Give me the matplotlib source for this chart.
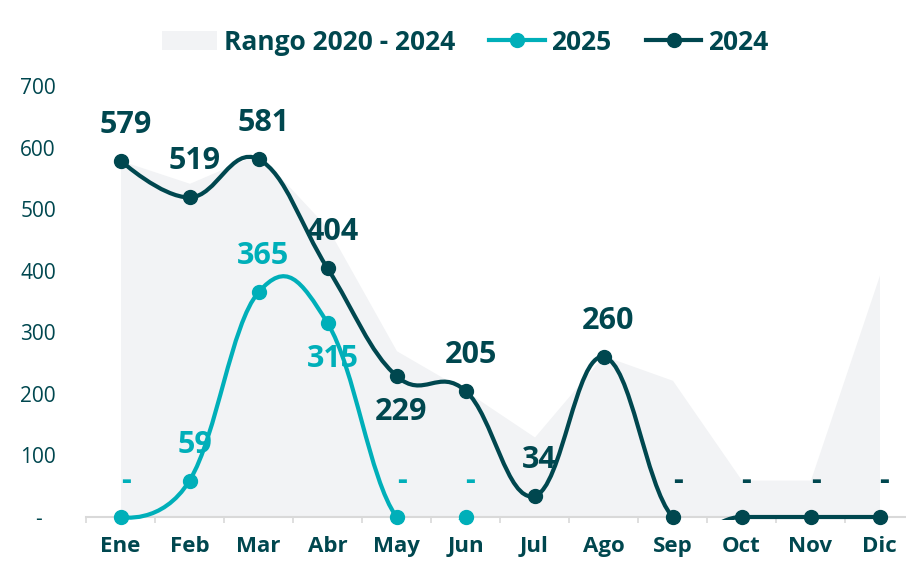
import numpy as np
import matplotlib
matplotlib.use("Agg")
import matplotlib.pyplot as plt
from matplotlib.path import Path
from matplotlib.patches import PathPatch, Patch
from matplotlib.lines import Line2D
from matplotlib.transforms import Bbox, TransformedBbox

plt.rcParams['font.family'] = ['Open Sans', 'DejaVu Sans']

# ----------------------------
# DATOS
# ----------------------------
meses = ["Ene", "Feb", "Mar", "Abr", "May", "Jun", "Jul", "Ago", "Sep", "Oct", "Nov", "Dic"]
serie_2024 = [579, 519, 581, 404, 229, 205, 34, 260, 0, 0, 0, 0]
serie_2025 = [0, 59, 365, 315, 0, 0]
rango_max = [579, 542, 590, 470, 270, 205, 130, 262, 222, 60, 60, 393]
rango_min = [0, 0, 0, 0, 0, 0, 0, 0, 0, 0, 0, 0]
yticks = [0, 100, 200, 300, 400, 500, 600, 700]

OSCURO = "#00474f"
TURQUESA = "#00afb9"
GRIS = "#f2f3f5"
EJE = "#d9d9d9"


def spline_path(xs, ys, smoothing=1.5):
    # curva tipo "spline" (puntos de control como en Highcharts)
    n = len(xs)
    denom = smoothing + 1
    lc = [(xs[i], ys[i]) for i in range(n)]
    rc = [(xs[i], ys[i]) for i in range(n)]
    for i in range(1, n - 1):
        px, py = xs[i], ys[i]
        lx = (smoothing * px + xs[i - 1]) / denom
        ly = (smoothing * py + ys[i - 1]) / denom
        rx = (smoothing * px + xs[i + 1]) / denom
        ry = (smoothing * py + ys[i + 1]) / denom
        if rx != lx:
            corr = ((ry - ly) * (rx - px)) / (rx - lx) + py - ry
            ly += corr
            ry += corr
        lc[i] = (lx, ly)
        rc[i] = (rx, ry)
    verts = [(xs[0], ys[0])]
    codes = [Path.MOVETO]
    for i in range(1, n):
        verts += [rc[i - 1], lc[i], (xs[i], ys[i])]
        codes += [Path.CURVE4] * 3
    return Path(verts, codes)


fig = plt.figure(figsize=(9.06, 5.63), dpi=100)
ax = fig.add_axes([86 / 906, 46 / 563, 820 / 906, 431 / 563])

# recorte un poco por debajo del eje (como el original)
clip = TransformedBbox(Bbox([[0, -3 / 431], [1, 1]]), ax.transAxes)

x_all = np.arange(len(meses))
ax.fill_between(x_all, rango_min, rango_max, color=GRIS, lw=0, zorder=1)

for valores, color, abajo in [(serie_2025, TURQUESA, [3]), (serie_2024, OSCURO, [4])]:
    xs = np.arange(len(valores))
    linea = PathPatch(spline_path(list(xs), list(valores)), fill=False,
                      edgecolor=color, lw=3, capstyle='round',
                      joinstyle='round', zorder=3)
    ax.add_patch(linea)
    linea.set_clip_path(None)
    linea.set_clip_box(clip)
    ax.plot(xs, valores, 'o', ms=10, color=color, clip_on=False, zorder=4)
    for i, v in enumerate(valores):
        txt = "-" if v == 0 else str(v)
        dy = -36 if i in abajo else 36
        ax.annotate(txt, (xs[i], v), xytext=(5, dy), textcoords='offset pixels',
                    ha='center', va='center', fontsize=22, fontweight='bold',
                    color=color, zorder=2, annotation_clip=False)

ax.set_xticks(x_all)
ax.set_xticklabels(meses, fontsize=16, fontweight='bold', color=OSCURO)
ax.set_xticks(np.arange(-0.5, 12, 1), minor=True)
ax.tick_params(axis='x', which='major', length=0, pad=14)
ax.tick_params(axis='x', which='minor', length=4.5, width=1.2, color=EJE, direction='out')

ax.set_yticks(yticks)
ax.set_yticklabels(["-" if t == 0 else str(t) for t in yticks], fontsize=15, color=OSCURO)
ax.tick_params(axis='y', length=0, pad=34.5)
for lbl in ax.get_yticklabels():
    lbl.set_horizontalalignment('center')

ax.set_xlim(-0.5, 820 / 69 - 0.5)
ax.set_ylim(0, 700)

for s in ['top', 'right', 'left']:
    ax.spines[s].set_visible(False)
ax.spines['bottom'].set_color(EJE)
ax.spines['bottom'].set_linewidth(1.5)
ax.spines['bottom'].set_zorder(2)

handles = [Patch(facecolor=GRIS, edgecolor='none'),
           Line2D([], [], color=TURQUESA, lw=3, marker='o', ms=10),
           Line2D([], [], color=OSCURO, lw=3, marker='o', ms=10)]
leg = fig.legend(handles, ["Rango 2020 - 2024", "2025", "2024"], loc='center',
                 bbox_to_anchor=(465 / 906, 1 - 42 / 563), ncol=3, frameon=False,
                 handlelength=2.1, handletextpad=0.25, columnspacing=1.3,
                 prop={'size': 19, 'weight': 'bold'})
for t in leg.get_texts():
    t.set_color(OSCURO)

fig.savefig("out.png", dpi=100)
